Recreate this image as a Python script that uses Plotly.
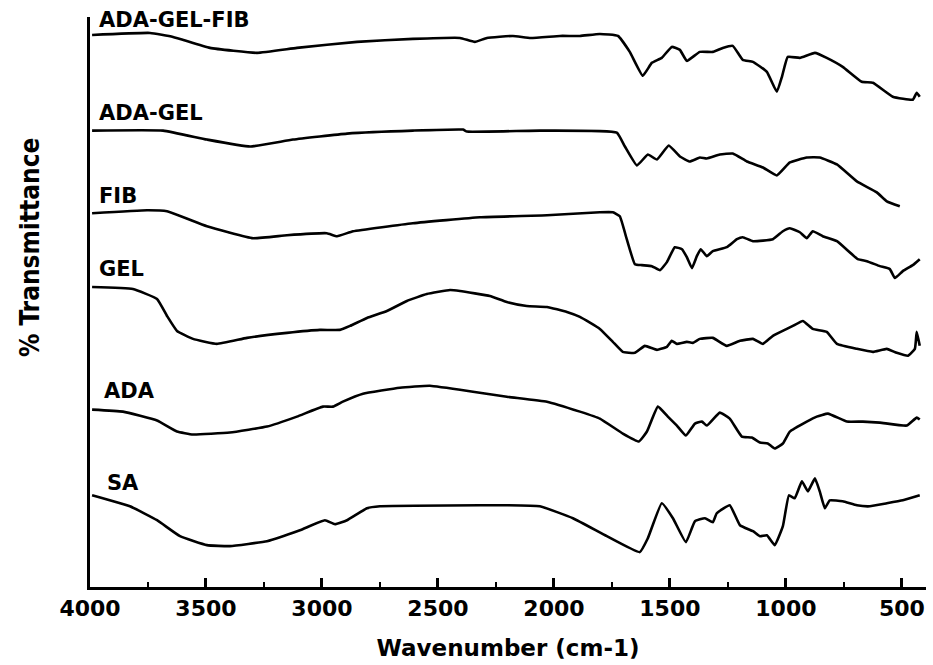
import plotly.graph_objects as go

# ---- data (wavenumber cm-1, transmittance in arbitrary offset units) ----
wn_adagelfib = [3991, 3741, 3642, 3483, 3280, 3108, 2849, 2608, 2405, 2341, 2289, 2177, 2100, 1974, 1888,
                1802, 1724, 1673, 1617, 1578, 1535, 1492, 1457, 1427, 1371, 1315, 1272, 1229, 1186,
                1142, 1082, 1039, 1017, 992, 940, 875, 824, 755, 673, 625, 539, 453, 436, 423]
t_adagelfib = [554, 556, 552, 541, 536, 541, 547, 550, 551, 547, 551, 553, 551, 553, 553,
               555, 553, 537, 513, 526, 531, 542, 539, 528, 537, 537, 541, 543, 529,
               527, 517, 497, 512, 532, 531, 536, 531, 522, 507, 506, 492, 489, 496, 492]

wn_adagel = [3991, 3685, 3496, 3310, 3125, 2892, 2608, 2392, 2375, 2060, 1729, 1694, 1642, 1595, 1556,
             1505, 1457, 1414, 1371, 1341, 1285, 1229, 1168, 1099, 1039, 983, 910, 854, 780, 694,
             608, 565, 509]
t_adagel = [458, 458, 449, 442, 449, 455, 458, 459, 457, 458, 456, 442, 423, 434, 429,
            443, 432, 427, 431, 430, 434, 435, 427, 421, 413, 426, 431, 431, 424, 407,
            396, 387, 382]

wn_fib = [3991, 3754, 3668, 3496, 3297, 3151, 2979, 2935, 2866, 2608, 2319, 2030, 1802, 1746, 1716,
          1686, 1651, 1621, 1578, 1543, 1513, 1479, 1448, 1427, 1405, 1384, 1367, 1341, 1315,
          1255, 1211, 1186, 1142, 1056, 1013, 983, 940, 910, 884, 841, 780, 690, 651, 595, 552,
          530, 496, 453, 423]
t_fib = [375, 378, 377, 362, 350, 353, 355, 352, 357, 365, 371, 373, 376, 376, 372,
         349, 324, 323, 322, 318, 326, 341, 339, 331, 320, 332, 339, 332, 337,
         341, 349, 351, 347, 349, 357, 360, 356, 350, 357, 352, 347, 329, 327, 322, 319,
         310, 317, 323, 329]

wn_gel = [3991, 3815, 3711, 3668, 3625, 3556, 3453, 3323, 3151, 3009, 2923, 2879, 2806, 2720, 2634,
          2548, 2448, 2405, 2276, 2203, 2117, 2030, 1944, 1888, 1802, 1746, 1703, 1651, 1608,
          1556, 1513, 1492, 1470, 1427, 1401, 1371, 1315, 1255, 1198, 1142, 1099, 1056, 996,
          970, 927, 884, 824, 780, 694, 625, 565, 522, 474, 444, 436, 423]
t_gel = [301, 299, 289, 272, 257, 249, 244, 250, 255, 258, 258, 262, 270, 277, 287,
         294, 298, 297, 292, 286, 282, 281, 276, 271, 259, 246, 236, 235, 242,
         238, 241, 247, 244, 246, 245, 249, 250, 242, 247, 249, 244, 252, 259,
         262, 267, 259, 256, 244, 239, 236, 239, 235, 232, 239, 256, 242]

wn_ada = [3991, 3858, 3711, 3625, 3556, 3397, 3237, 3108, 2996, 2953, 2910, 2823, 2664, 2535, 2349,
          2203, 2030, 1888, 1802, 1703, 1634, 1599, 1552, 1509, 1470, 1431, 1392, 1362, 1341,
          1285, 1242, 1190, 1147, 1112, 1078, 1048, 1013, 983, 910, 867, 819, 737, 668, 595,
          479, 436, 423]
t_ada = [178, 176, 167, 156, 153, 155, 161, 171, 181, 181, 186, 194, 200, 202, 196,
         191, 186, 176, 169, 154, 146, 156, 181, 171, 162, 152, 164, 166, 162,
         175, 169, 151, 150, 145, 144, 139, 144, 156, 166, 171, 174, 166, 166, 165,
         162, 170, 168]

wn_sa = [3991, 3828, 3711, 3612, 3496, 3397, 3237, 3095, 2987, 2944, 2892, 2806, 2750, 2319, 2203,
         2061, 1918, 1772, 1630, 1595, 1535, 1487, 1431, 1392, 1349, 1315, 1298, 1242, 1198,
         1142, 1112, 1082, 1048, 1013, 987, 962, 931, 905, 875, 854, 832, 811, 755, 694, 638,
         565, 496, 423]
t_sa = [92, 81, 67, 51, 42, 41, 46, 57, 67, 63, 67, 79, 81, 82, 82,
        81, 69, 51, 35, 49, 84, 69, 45, 66, 69, 65, 74, 82, 62,
        56, 51, 52, 42, 61, 92, 89, 106, 96, 109, 96, 79, 87, 86, 82, 81,
        84, 87, 92]

series = [
    ("ADA-GEL-FIB", wn_adagelfib, t_adagelfib, 3970, 569),
    ("ADA-GEL", wn_adagel, t_adagel, 3970, 476),
    ("FIB", wn_fib, t_fib, 3970, 392),
    ("GEL", wn_gel, t_gel, 3972, 319),
    ("ADA", wn_ada, t_ada, 3950, 197),
    ("SA", wn_sa, t_sa, 3935, 104),
]

tick_vals = [4000, 3500, 3000, 2500, 2000, 1500, 1000, 500]
tick_text = [str(v) for v in tick_vals]

fig = go.Figure()
for name, xs, ys, lx, ly in series:
    fig.add_trace(go.Scatter(x=xs, y=ys, mode="lines", name=name,
                             line=dict(color="black", width=2.6, shape="spline", smoothing=0.35),
                             showlegend=False, hoverinfo="skip"))
    fig.add_annotation(x=lx, y=ly, xref="x", yref="y", text=name, showarrow=False,
                       xanchor="left", yanchor="middle",
                       font=dict(family="DejaVu Sans", size=21, color="black", weight="bold"))

fig.add_annotation(x=-0.072, y=0.596, xref="paper", yref="paper", text="% Transmittance",
                   textangle=-90, showarrow=False, xanchor="center", yanchor="middle",
                   font=dict(family="Liberation Sans Narrow, DejaVu Sans Condensed, Arial Narrow",
                             size=26, color="black", weight="bold"))

fig.update_layout(
    width=933, height=665,
    margin=dict(l=90, r=7, t=17, b=76),
    paper_bgcolor="white", plot_bgcolor="white",
    xaxis=dict(range=[4000, 396], tickvals=tick_vals, ticktext=tick_text,
               showline=True, linecolor="black", linewidth=3, mirror=False,
               ticks="inside", ticklen=9, tickwidth=2.5, tickcolor="black",
               minor=dict(dtick=250, ticks="inside", ticklen=5, tickwidth=2, tickcolor="black",
                          showgrid=False),
               showgrid=False, zeroline=False,
               tickfont=dict(family="DejaVu Sans", size=22, color="black", weight="bold"),
               title=dict(text="Wavenumber (cm-1)", standoff=20,
                          font=dict(family="DejaVu Sans", size=23, color="black", weight="bold"))),
    yaxis=dict(range=[0, 572], showline=True, linecolor="black", linewidth=3,
               showticklabels=False, ticks="", showgrid=False, zeroline=False),
)

fig.write_html("out.html")
